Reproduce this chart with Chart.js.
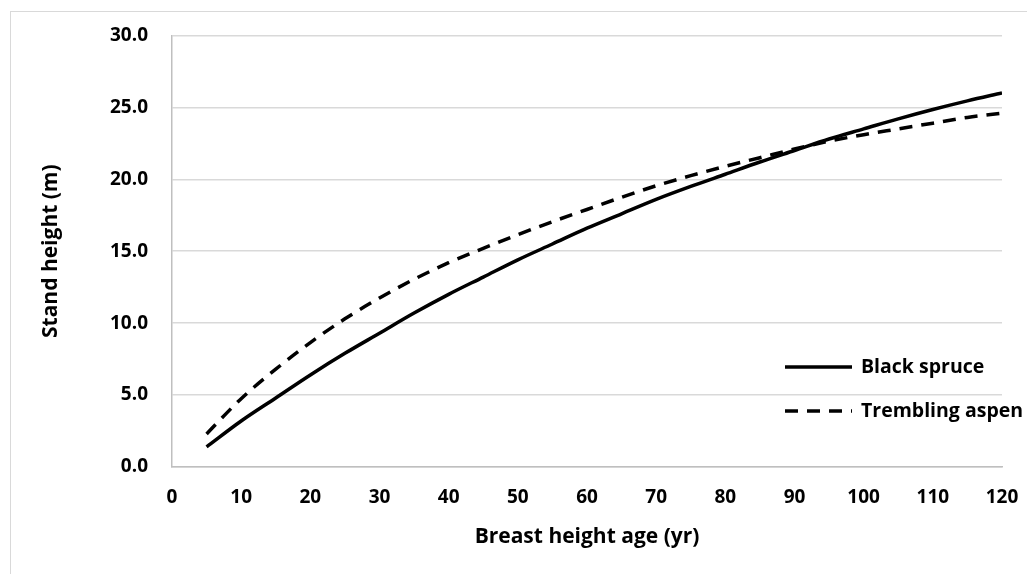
<!DOCTYPE html>
<html>
<head>
<meta charset="utf-8">
<script src="https://cdn.jsdelivr.net/npm/chart.js@4.4.1/dist/chart.umd.min.js"></script>
<style>
  html, body { margin: 0; padding: 0; background: #ffffff; }
  #wrap { position: relative; width: 1027px; height: 574px; overflow: hidden; }
  #frame { position: absolute; left: 10px; top: 11px; width: 1100px; height: 700px; border: 1px solid #d9d9d9; box-sizing: border-box; }
  #c { position: absolute; left: 0; top: 0; }
</style>
</head>
<body>
<div id="wrap">
  <div id="frame"></div>
  <canvas id="c" width="1027" height="574"></canvas>
</div>
<script>
// ---- data ----
const ages = [5, 10, 15, 20, 25, 30, 35, 40, 45, 50, 55, 60, 65, 70, 75, 80, 85, 90, 95, 100, 105, 110, 115, 120];
const blackSpruce = [1.4, 3.2, 4.8, 6.4, 7.9, 9.3, 10.7, 12.0, 13.2, 14.4, 15.5, 16.6, 17.6, 18.6, 19.5, 20.35, 21.2, 22.0, 22.8, 23.5, 24.2, 24.85, 25.45, 26.0];
const tremblingAspen = [2.3, 4.75, 6.8, 8.65, 10.3, 11.75, 13.05, 14.2, 15.2, 16.15, 17.05, 17.9, 18.75, 19.55, 20.25, 20.9, 21.5, 22.1, 22.65, 23.1, 23.5, 23.9, 24.3, 24.6];
const seriesNames = ["Black spruce", "Trembling aspen"];
const xTicks = [0, 10, 20, 30, 40, 50, 60, 70, 80, 90, 100, 110, 120];
const yTicks = [0, 5, 10, 15, 20, 25, 30];
const xTitle = "Breast height age (yr)";
const yTitle = "Stand height (m)";

const FONT = "'Open Sans', Lato, 'DejaVu Sans', sans-serif";

const toPoints = (xs, ys) => xs.map((x, i) => ({ x: x, y: ys[i] }));

const insideLegend = {
  id: 'insideLegend',
  afterDraw(chart) {
    const ctx = chart.ctx;
    const x0 = 785, x1 = 852, tx = 861;
    const rows = [367, 411];
    ctx.save();
    chart.data.datasets.forEach((ds, i) => {
      const y = rows[i];
      ctx.beginPath();
      ctx.strokeStyle = ds.borderColor;
      ctx.lineWidth = ds.borderWidth;
      ctx.setLineDash(ds.borderDash || []);
      ctx.moveTo(x0, y);
      ctx.lineTo(x1, y);
      ctx.stroke();
      ctx.setLineDash([]);
      ctx.fillStyle = '#000000';
      ctx.font = 'bold 19.5px ' + FONT;
      ctx.textAlign = 'left';
      ctx.textBaseline = 'middle';
      ctx.fillText(ds.label, tx, y);
    });
    ctx.restore();
  }
};

new Chart(document.getElementById('c'), {
  type: 'line',
  data: {
    datasets: [
      {
        label: seriesNames[0],
        data: toPoints(ages, blackSpruce),
        borderColor: '#000000',
        borderWidth: 3.5,
        pointRadius: 0,
        fill: false,
        cubicInterpolationMode: 'monotone'
      },
      {
        label: seriesNames[1],
        data: toPoints(ages, tremblingAspen),
        borderColor: '#000000',
        borderWidth: 3.5,
        borderDash: [13, 9],
        pointRadius: 0,
        fill: false,
        cubicInterpolationMode: 'monotone'
      }
    ]
  },
  options: {
    responsive: false,
    animation: false,
    events: [],
    layout: { padding: { left: 0, top: 26, right: 25, bottom: 0 } },
    plugins: {
      legend: { display: false },
      tooltip: { enabled: false }
    },
    scales: {
      x: {
        type: 'linear',
        min: 0,
        max: 120,
        afterBuildTicks: (s) => { s.ticks = xTicks.map(v => ({ value: v })); },
        afterFit: (s) => { s.height = 107; s.paddingRight = 0; s.paddingLeft = 0; },
        grid: { display: false, drawTicks: false },
        border: { display: true, color: '#bfbfbf', width: 1.5 },
        ticks: {
          color: '#000000',
          padding: 19,
          font: { family: FONT, size: 19, weight: 'bold' },
          callback: (v) => String(v)
        },
        title: {
          display: true,
          text: xTitle,
          color: '#000000',
          font: { family: FONT, size: 21, weight: 'bold' },
          padding: { top: 0, bottom: 24 }
        }
      },
      y: {
        type: 'linear',
        min: 0,
        max: 30,
        afterBuildTicks: (s) => { s.ticks = yTicks.map(v => ({ value: v })); },
        afterFit: (s) => { s.width = 172; },
        grid: { display: true, color: '#d9d9d9', lineWidth: 1.5, drawTicks: false },
        border: { display: true, color: '#bfbfbf', width: 1.5 },
        ticks: {
          color: '#000000',
          padding: 24,
          font: { family: FONT, size: 19, weight: 'bold' },
          callback: (v) => Number(v).toFixed(1)
        },
        title: {
          display: true,
          text: yTitle,
          color: '#000000',
          font: { family: FONT, size: 21, weight: 'bold' },
          padding: { top: 38, bottom: 0 }
        }
      }
    }
  },
  plugins: [insideLegend]
});
</script>
</body>
</html>
